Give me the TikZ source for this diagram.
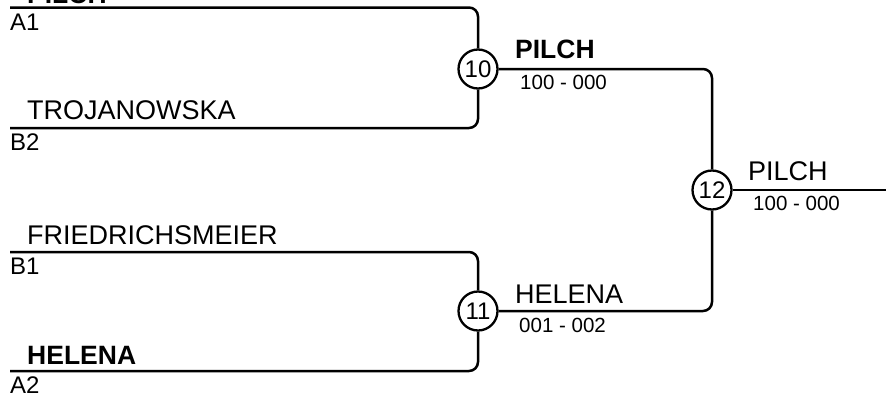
\documentclass[tikz,border=0pt]{standalone}
\usepackage{fontspec}
\setmainfont{Liberation Sans}
\usetikzlibrary{positioning}

\tikzset{
	line/.style={line width=2.5pt, rounded corners=9pt},
	match/.style={circle, draw, line width=2.3pt, minimum size=39pt, inner sep=0pt, font=\fontsize{24}{28}\selectfont},
	player/.style={anchor=base west, inner sep=0pt, font=\fontsize{27}{31}\selectfont},
	winner/.style={player, font=\fontsize{26.5}{31}\selectfont\bfseries},
	seed/.style={anchor=base west, inner sep=0pt, font=\fontsize{24}{28}\selectfont},
	score/.style={anchor=base west, inner sep=0pt, font=\fontsize{20.5}{24}\selectfont},
}

\begin{document}
\begin{tikzpicture}[x=1pt, y=-1pt]
\useasboundingbox (0,0) rectangle (886,394);

% matches
\node[match](m10) at (478,69){10};
\node[match](m11) at (478,311){11};
\node[match](m12) at (712,190){12};

% first round lines
\coordinate (a1) at (10,7.5);
\coordinate (b2) at (10,128);
\coordinate (b1) at (10,252);
\coordinate (a2) at (10,371);
\coordinate (out) at (886,190);

\draw[line] (a1) -| (m10);
\draw[line] (b2) -| (m10);
\draw[line] (b1) -| (m11);
\draw[line] (a2) -| (m11);
\draw[line] (m10) -| (m12);
\draw[line] (m11) -| (m12);
\draw[line] (m12) -- (out);

% players
\node[winner](pa1) at (27,3){PILCH};
\node[seed](sa1) at (10,30.5){A1};
\node[player](pb2) at (27,119.5){TROJANOWSKA};
\node[seed](sb2) at (10,150){B2};
\node[player](pb1) at (27,244){FRIEDRICHSMEIER};
\node[seed](sb1) at (10,274){B1};
\node[winner](pa2) at (27,364){HELENA};
\node[seed](sa2) at (10,393){A2};

% results
\node[winner](w10) at (515,58){PILCH};
\node[score](r10) at (520,89){100 - 000};
\node[player](w11) at (515,303){HELENA};
\node[score](r11) at (519,332){001 - 002};
\node[player](w12) at (748,180){PILCH};
\node[score](r12) at (753,210){100 - 000};
\end{tikzpicture}
\end{document}
